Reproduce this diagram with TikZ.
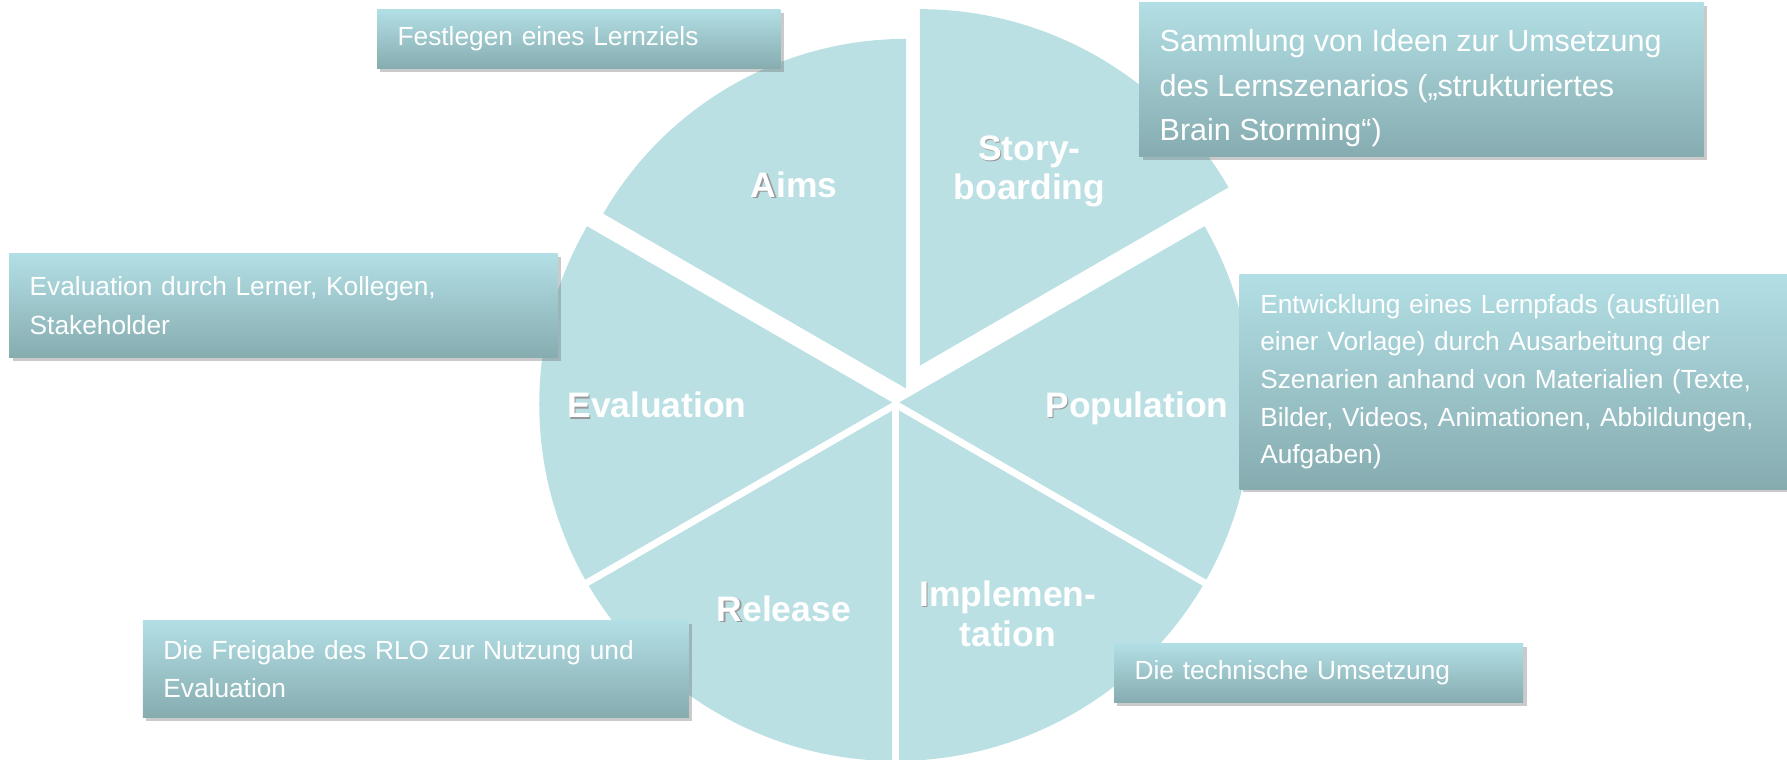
\documentclass[tikz,border=0pt]{standalone}
\usepackage{fontspec}
\setmainfont{Liberation Sans}
\usetikzlibrary{shadows}
\definecolor{piecol}{RGB}{186,224,228}
\definecolor{boxtop}{RGB}{178,223,229}
\definecolor{boxbot}{RGB}{134,172,176}
\hyphenpenalty=10000
\exhyphenpenalty=10000
\newcommand{\firstlet}[1]{\makebox[0pt][l]{\hspace{1.2pt}\raisebox{-1.2pt}{\color{black!40}#1}}#1}
\begin{document}
\begin{tikzpicture}[x=1pt,y=1pt,
  seg/.style={fill=piecol},
  gap/.style={draw=white,line width=6pt},
  lbl/.style={text=white,font=\fontsize{31}{35}\selectfont\bfseries,align=center,inner sep=0pt},
  infobox/.style={rectangle, top color=boxtop, bottom color=boxbot, text=white, align=left,
    inner xsep=18pt, inner ysep=0pt,
    drop shadow={shadow xshift=3pt,shadow yshift=-3pt,opacity=0.35,fill=black!60},
    font=\fontsize{23}{33}\selectfont}]
\useasboundingbox (0,0) rectangle (1564,665);
\coordinate (C) at (784,311);
\coordinate (CA) at (793,325);
\coordinate (CS) at (805,345);
% pie
\fill[seg] (CS) -- ++(30:312) arc[start angle=30,end angle=90,radius=312] -- cycle;
\fill[seg] (CA) -- ++(90:306) arc[start angle=90,end angle=150,radius=306] -- cycle;
\fill[seg] (C) -- ++(150:312) arc[start angle=150,end angle=390,radius=312] -- cycle;
\draw[gap] (C) -- ++(210:330);
\draw[gap] (C) -- ++(270:330);
\draw[gap] (C) -- ++(330:330);
% labels
\node[lbl] (laims) at (695,503) {\firstlet{A}ims};
\node[lbl] (lstory) at (901,515) {\firstlet{S}tory-\\boarding};
\node[lbl] (leval) at (575,310) {\firstlet{E}valuation};
\node[lbl] (lpop) at (995,308) {\firstlet{P}opulation};
\node[lbl] (lrel) at (686,132) {\firstlet{R}elease};
\node[lbl] (limpl) at (882,128) {\firstlet{I}mplemen-\\tation};
% boxes
\node[infobox, minimum height=52pt, text width=317pt] (baims) at (506.5,631) {Festlegen eines Lernziels};
\node[infobox, minimum height=135pt, minimum width=494pt] (bstory) at (1244,595.5) {};
\node[text=white, align=left, inner sep=0pt, anchor=west, font=\fontsize{26.7}{39}\selectfont] (tstory) at ([xshift=18pt,yshift=-8pt]bstory.west) {Sammlung von Ideen zur Umsetzung\\des Lernszenarios („strukturiertes\\Brain Storming“)};
\node[infobox, minimum height=91pt, text width=444pt, font=\fontsize{23}{34}\selectfont] (beval) at (248,397.5) {Evaluation durch Lerner, Kollegen,\\Stakeholder};
\node[infobox, minimum height=188pt, text width=444pt] (bpop) at (1325,331) {Entwicklung eines Lernpfads (ausfüllen\\einer Vorlage) durch Ausarbeitung der\\Szenarien anhand von Materialien (Texte,\\Bilder, Videos, Animationen, Abbildungen,\\Aufgaben)};
\node[infobox, minimum height=85pt, text width=442pt] (brel) at (364,79.5) {Die Freigabe des RLO zur Nutzung und\\Evaluation};
\node[infobox, minimum height=52pt, text width=322pt] (bimpl) at (1154,76) {Die technische Umsetzung};
\end{tikzpicture}
\end{document}
